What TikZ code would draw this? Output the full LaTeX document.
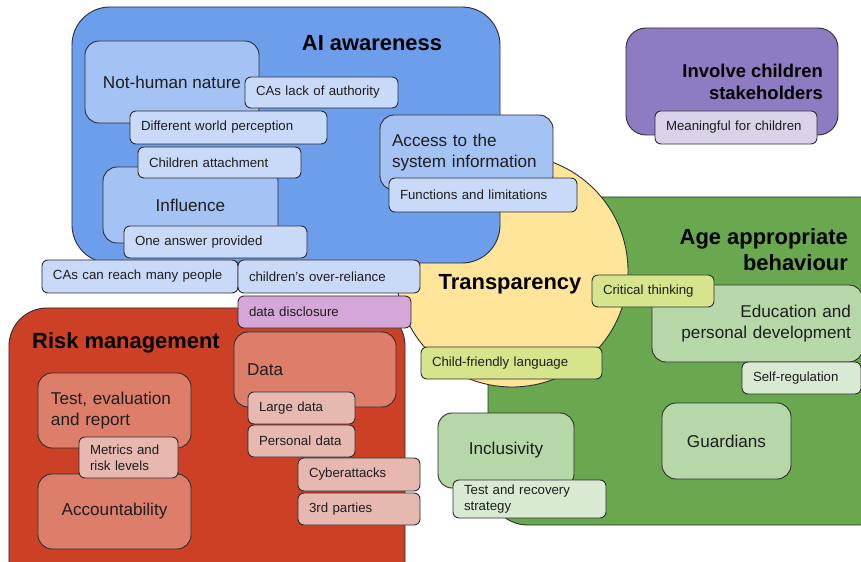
\documentclass[tikz,border=0pt]{standalone}
\usepackage{fontspec}
\setmainfont{Liberation Sans}
\usetikzlibrary{positioning,shapes.geometric}
\definecolor{edgegray}{RGB}{45,45,50}
\definecolor{inkdark}{RGB}{30,30,30}
\definecolor{bluemain}{RGB}{109,158,235}
\definecolor{bluemid}{RGB}{164,194,244}
\definecolor{bluelight}{RGB}{201,218,248}
\definecolor{purplemain}{RGB}{142,124,195}
\definecolor{purplelight}{RGB}{217,210,233}
\definecolor{redmain}{RGB}{204,65,37}
\definecolor{redmid}{RGB}{221,126,107}
\definecolor{redlight}{RGB}{230,184,175}
\definecolor{greenmain}{RGB}{106,168,79}
\definecolor{greenmid}{RGB}{182,215,168}
\definecolor{greenlight}{RGB}{217,234,211}
\definecolor{sunyellow}{RGB}{255,229,153}
\definecolor{limesoft}{RGB}{214,228,140}
\definecolor{lilacsoft}{RGB}{213,166,216}
\newcommand\tagfont{\fontsize{13.3}{16.5}\selectfont}
\newcommand\topicfont{\fontsize{17.2}{20.5}\selectfont}
\newcommand\headfont{\fontsize{22}{26}\selectfont\bfseries}
\tikzset{
  group/.style={draw=edgegray,line width=0.9bp,rounded corners=36bp,inner sep=0pt},
  topic/.style={draw=edgegray,line width=0.9bp,rounded corners=14bp,
    font=\topicfont,text=inkdark,align=center,inner sep=0pt},
  tag/.style={draw=edgegray,line width=0.9bp,rounded corners=6bp,
    font=\tagfont,text=inkdark,align=left,inner xsep=11bp,inner ysep=0pt},
  heading/.style={font=\headfont,text=black,inner sep=0pt}
}
\begin{document}
\begin{tikzpicture}[x=1bp,y=-1bp]
  \path[use as bounding box,fill=white] (0,0) rectangle (861,562);
  \clip (0,0) rectangle (861,562);

  % age appropriate behaviour
  \node[group,fill=greenmain,minimum width=412bp,minimum height=328bp,rounded corners=40bp] (age) at (694,361) {};
  \node[circle,draw=edgegray,line width=0.9bp,fill=sunyellow,minimum size=232bp] (transp) at (512,271) {};
  \node[heading] (transptitle) at (510,284) {Transparency};
  \node[heading,align=right,anchor=east] (agetitle) at (848,250) {Age appropriate\\behaviour};
  \node[topic,fill=greenmid,minimum height=77bp,text width=187bp,inner xsep=12bp,align=right] (education) at (757.5,323.5) {Education and\\personal development};
  \node[tag,fill=limesoft,minimum height=32bp,text width=100bp] (critical) at (653,291) {Critical thinking};
  \node[tag,fill=greenlight,minimum height=32bp,text width=97bp] (selfreg) at (801.5,378) {Self-regulation};
  \node[tag,fill=limesoft,minimum height=32bp,text width=159bp] (childlang) at (511.5,363) {Child-friendly language};
  \node[topic,fill=greenmid,minimum width=136bp,minimum height=75bp] (inclusivity) at (506,450.5) {Inclusivity};
  \node[tag,fill=greenlight,minimum height=38bp,text width=131bp] (recovery) at (529.5,499) {Test and recovery\\strategy};
  \node[topic,fill=greenmid,minimum width=129bp,minimum height=76bp] (guardians) at (726.5,441) {Guardians};

  % AI awareness
  \node[group,fill=bluemain,minimum width=428bp,minimum height=256bp,rounded corners=38bp] (aware) at (286,135) {};
  \node[heading] (awaretitle) at (372,43) {AI awareness};
  \node[topic,fill=bluemid,minimum width=174bp,minimum height=82bp] (nothuman) at (172,82) {Not-human nature};
  \node[topic,fill=bluemid,minimum width=175bp,minimum height=76bp] (influence) at (190.5,205) {Influence};
  \node[topic,fill=bluemid,minimum height=75bp,text width=149bp,inner xsep=12bp,align=left] (access) at (466.5,152.5) {Access to the\\system information};
  \node[tag,fill=bluelight,minimum height=31bp,text width=131bp] (authority) at (321.5,92.5) {CAs lack of authority};
  \node[tag,fill=bluelight,minimum height=33bp,text width=175bp] (perception) at (228.5,127.5) {Different world perception};
  \node[tag,fill=bluelight,minimum height=31bp,text width=141bp] (attachment) at (219.5,162.5) {Children attachment};
  \node[tag,fill=bluelight,minimum height=32bp,text width=161bp] (oneanswer) at (215.5,242) {One answer provided};
  \node[tag,fill=bluelight,minimum height=34bp,text width=166bp] (functions) at (483,195) {Functions and limitations};

  % involve children stakeholders
  \node[group,fill=purplemain,minimum width=212bp,minimum height=107bp,rounded corners=20bp] (involve) at (732,81.5) {};
  \node[heading,font=\fontsize{18.5}{22}\selectfont\bfseries,align=right,anchor=east] (involvetitle) at (823,82) {Involve children\\stakeholders};
  \node[tag,fill=purplelight,minimum height=33bp,text width=140bp] (meaningful) at (736,127.5) {Meaningful for children};

  % risk management
  \node[group,fill=redmain,minimum width=396bp,minimum height=292bp,rounded corners=38bp] (risk) at (207,454) {};
  \node[heading,anchor=west] (risktitle) at (32,343) {Risk management};
  \node[topic,fill=redmid,minimum height=75bp,text width=127bp,inner xsep=13bp,align=left] (testeval) at (114.5,410.5) {Test, evaluation\\and report};
  \node[topic,fill=redmid,minimum width=153bp,minimum height=75bp] (account) at (114.5,511.5) {Accountability};
  \node[tag,fill=redlight,minimum height=41bp,text width=77bp] (metrics) at (128.5,457.5) {Metrics and\\risk levels};
  \node[topic,fill=redmid,minimum height=75bp,text width=136bp,inner xsep=13bp,align=left] (data) at (315,369.5) {Data};
  \node[tag,fill=redlight,minimum height=32bp,text width=85bp] (largedata) at (301.5,408) {Large data};
  \node[tag,fill=redlight,minimum height=32bp,text width=85bp] (personal) at (301.5,441) {Personal data};
  \node[tag,fill=redlight,minimum height=33bp,text width=100bp] (cyber) at (359,474.5) {Cyberattacks};
  \node[tag,fill=redlight,minimum height=32bp,text width=100bp] (thirdparty) at (359,509) {3rd parties};

  % shared tags
  \node[tag,fill=bluelight,minimum height=33bp,text width=174bp] (reach) at (140,276.5) {CAs can reach many people};
  \node[tag,fill=bluelight,minimum height=33bp,text width=160bp] (overreliance) at (329,276.5) {children’s over-reliance};
  \node[tag,fill=lilacsoft,minimum height=32bp,text width=151bp] (disclosure) at (324.5,312) {data disclosure};
\end{tikzpicture}
\end{document}
